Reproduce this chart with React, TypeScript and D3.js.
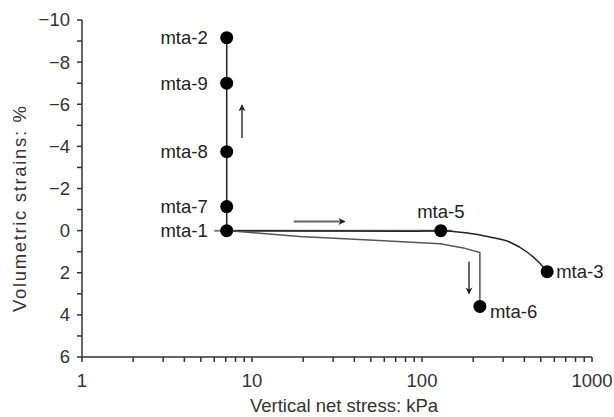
import React from "react";
import * as d3 from "d3";

const W = 614, H = 417;
const xDomain: [number, number] = [1, 1000];
const yDomain: [number, number] = [-10, 6];
const xTicksMajor = [1, 10, 100, 1000];
const yTicksMajor = [-10, -8, -6, -4, -2, 0, 2, 4, 6];
const yTicksMinor = [-9, -7, -5, -3, -1, 1, 3, 5];

// points: [stress kPa, strain %]
const pointNames = ["mta-1", "mta-7", "mta-8", "mta-9", "mta-2", "mta-5", "mta-3", "mta-6"];
const pointX = [7.1, 7.1, 7.1, 7.1, 7.1, 129, 545, 219];
const pointY = [0, -1.14, -3.75, -7.0, -9.16, 0, 1.95, 3.6];

// wetting path (vertical)
const wetX = [7.1, 7.1];
const wetY = [0, -9.16];
// loading path mta-1 -> mta-5 -> mta-3
const loadX = [7.1, 30, 80, 129, 180, 250, 330, 420, 480, 545];
const loadY = [0, 0.02, 0.03, 0, 0.1, 0.3, 0.55, 1.05, 1.45, 1.95];
// second path mta-1 -> mta-6
const path2X = [7.1, 19, 49, 128, 175, 219, 219];
const path2Y = [0, 0.28, 0.45, 0.62, 0.82, 1.04, 3.6];
// grey horizontal unloading line
const greyX = [6.0, 150];
const greyY = [0, 0];

// arrows [x1,y1,x2,y2]
const arrowUp = [8.73, -4.4, 8.73, -5.95];
const arrowRight = [17.6, -0.43, 35, -0.43];
const arrowDown = [189, 1.47, 189, 2.98];

export default function App() {
  const x = d3.scaleLog().domain(xDomain).range([82, 592]);
  const y = d3.scaleLinear().domain(yDomain).range([20, 357]);
  const minorX: number[] = [];
  for (let d = 1; d < 1000; d *= 10) for (let k = 2; k <= 9; k++) minorX.push(d * k);
  const mk = (xs: number[], ys: number[]) =>
    d3.line<number>().x((d) => x(d)).y((_, i) => y(ys[i]))(xs) as string;
  const mkCurve = (xs: number[], ys: number[]) =>
    d3.line<number>().x((d) => x(d)).y((_, i) => y(ys[i])).curve(d3.curveMonotoneX)(xs) as string;
  const font = "Liberation Sans, Arial, sans-serif";
  const fs = 18.5;
  const fmt = (v: number) => (v < 0 ? "\u2212" + Math.abs(v) : String(v));
  const arrow = (a: number[], key: string) => {
    const x1 = x(a[0]), y1 = y(a[1]), x2 = x(a[2]), y2 = y(a[3]);
    return <line key={key} x1={x1} y1={y1} x2={x2} y2={y2} stroke="#666" strokeWidth={2} markerEnd="url(#ah)" />;
  };
  return (
    <svg width={W} height={H} style={{ position: "absolute", left: 0, top: 0, background: "#fff" }}>
      <defs>
        <marker id="ah" markerWidth="8" markerHeight="8" refX="6" refY="4" orient="auto" markerUnits="userSpaceOnUse">
          <path d="M0,0.5 L7,4 L0,7.5 L2,4 Z" fill="#222" />
        </marker>
      </defs>
      {/* axes */}
      <line x1={82} y1={y(-10)} x2={82} y2={357} stroke="#333" strokeWidth={1.5} />
      <line x1={82} y1={357} x2={592} y2={357} stroke="#333" strokeWidth={1.5} />
      {[...yTicksMajor, ...yTicksMinor].map((t) => (
        <line key={"yt" + t} x1={77} x2={82} y1={y(t)} y2={y(t)} stroke="#333" strokeWidth={1.5} />
      ))}
      {yTicksMajor.map((t) => (
        <text key={"yl" + t} x={70} y={y(t)} dy="0.35em" textAnchor="end" fontFamily={font} fontSize={fs} fill="#333">
          {fmt(t)}
        </text>
      ))}
      {[...xTicksMajor, ...minorX].map((t) => (
        <line key={"xt" + t} x1={x(t)} x2={x(t)} y1={357} y2={362} stroke="#333" strokeWidth={1.5} />
      ))}
      {xTicksMajor.map((t) => (
        <text key={"xl" + t} x={x(t)} y={387} textAnchor="middle" fontFamily={font} fontSize={fs} fill="#333">
          {t}
        </text>
      ))}
      <text x={344} y={412} textAnchor="middle" fontFamily={font} fontSize={fs} fill="#333">
        Vertical net stress: kPa
      </text>
      <text transform="translate(26,209) rotate(-90)" textAnchor="middle" fontFamily={font} fontSize={fs} fill="#333" textLength={206} lengthAdjust="spacing">
        Volumetric strains: %
      </text>
      {/* paths */}
      <path d={mk(greyX, greyY)} stroke="#777" strokeWidth={2} fill="none" />
      <path d={mk(wetX, wetY)} stroke="#222" strokeWidth={1.5} fill="none" />
      <path d={mkCurve(loadX, loadY)} stroke="#222" strokeWidth={1.5} fill="none" />
      <path d={mk(path2X, path2Y)} stroke="#555" strokeWidth={1.5} fill="none" />
      {arrow(arrowUp, "au")}
      {arrow(arrowRight, "ar")}
      {arrow(arrowDown, "ad")}
      {/* points */}
      {pointX.map((px, i) => (
        <circle key={"p" + i} cx={x(px)} cy={y(pointY[i])} r={6.5} fill="#000" />
      ))}
      {pointNames.map((n, i) => {
        const cx = x(pointX[i]), cy = y(pointY[i]);
        if (i <= 4)
          return (
            <text key={"n" + i} x={cx - 19} y={cy} dy="0.35em" textAnchor="end" fontFamily={font} fontSize={fs} fill="#222">
              {n}
            </text>
          );
        if (n === "mta-5")
          return (
            <text key={"n" + i} x={cx} y={cy - 13} textAnchor="middle" fontFamily={font} fontSize={fs} fill="#222">
              {n}
            </text>
          );
        if (n === "mta-3")
          return (
            <text key={"n" + i} x={cx + 9} y={cy} dy="0.35em" textAnchor="start" fontFamily={font} fontSize={fs} fill="#222">
              {n}
            </text>
          );
        return (
          <text key={"n" + i} x={cx + 10} y={cy + 5} dy="0.35em" textAnchor="start" fontFamily={font} fontSize={fs} fill="#222">
            {n}
          </text>
        );
      })}
    </svg>
  );
}
